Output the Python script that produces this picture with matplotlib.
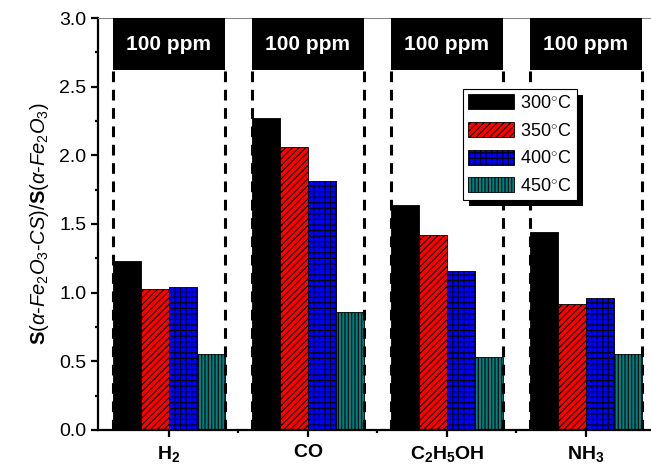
import numpy as np
import matplotlib.pyplot as plt
from matplotlib.patches import Rectangle
from matplotlib.transforms import IdentityTransform
from matplotlib.ticker import MultipleLocator, FixedLocator

plt.rcParams['font.family'] = ['Liberation Sans', 'DejaVu Sans']
plt.rcParams['mathtext.fontset'] = 'custom'
plt.rcParams['mathtext.rm'] = 'Liberation Sans'
plt.rcParams['mathtext.it'] = 'Liberation Sans:italic'
plt.rcParams['mathtext.bf'] = 'Liberation Sans:bold'
plt.rcParams['hatch.linewidth'] = 0.8

gases = [r'$\mathbf{H_2}$', r'$\mathbf{CO}$', r'$\mathbf{C_2H_5OH}$', r'$\mathbf{NH_3}$']
temps = ['300$^{\\circ}$C', '350$^{\\circ}$C', '400$^{\\circ}$C', '450$^{\\circ}$C']
s_300 = [1.23, 2.27, 1.64, 1.44]
s_350 = [1.03, 2.06, 1.42, 0.92]
s_400 = [1.04, 1.81, 1.16, 0.96]
s_450 = [0.55, 0.86, 0.53, 0.55]
conc_label = '100 ppm'

series = [s_300, s_350, s_400, s_450]
colors = ['black', 'red', 'blue', '#008080']
hatches = ['', '/////', '+++', '|||||']

fig = plt.figure(figsize=(6.51, 4.69), dpi=100)
ax = fig.add_axes([0.1505, 0.0832, 0.8495, 0.8784])

x = np.arange(len(gases))
w = 0.2
for k, vals in enumerate(series):
    ax.bar(x + (k - 1.5) * w, vals, w, color=colors[k], hatch=hatches[k],
           edgecolor='black', linewidth=0.6, label=temps[k], zorder=2)

# black concentration boxes and dashed guides around each group
box_lo = 2.62
for i in x:
    ax.add_patch(Rectangle((i - 0.4, box_lo), 0.8, 3.0 - box_lo,
                           facecolor='black', edgecolor='none', zorder=3))
    ax.text(i, (box_lo + 3.0) / 2, conc_label, color='white', fontsize=15,
            fontweight='bold', ha='center', va='center', zorder=4)
    for xe in (i - 0.4, i + 0.4):
        ax.plot([xe, xe], [0, box_lo], color='black', lw=2.2,
                dashes=(3.5, 2.5), zorder=3)

ax.set_xlim(-0.511, 3.468)
ax.set_ylim(0, 3.0)
ax.set_xticks(x)
ax.set_xticklabels(gases, fontsize=14)
ax.xaxis.set_minor_locator(FixedLocator([0.5, 1.5, 2.5]))
ax.yaxis.set_major_locator(MultipleLocator(0.5))
ax.yaxis.set_minor_locator(MultipleLocator(0.25))
ax.yaxis.set_major_formatter(plt.FormatStrFormatter('%.1f'))
ax.tick_params(axis='both', which='major', direction='out', length=5, width=1.6,
               labelsize=14)
ax.tick_params(axis='both', which='minor', direction='out', length=2.5, width=1.6)
ax.tick_params(axis='x', pad=5)

for s in ('left', 'bottom'):
    ax.spines[s].set_linewidth(1.6)
ax.spines['top'].set_linewidth(0.8)
ax.spines['top'].set_color('#888888')
ax.spines['right'].set_visible(False)

ax.set_ylabel(r'$\mathbf{S}(\alpha$-$Fe_2O_3$-$CS)/\mathbf{S}(\alpha$-$Fe_2O_3)$',
              fontsize=14.5, labelpad=6)

leg = ax.legend(loc='upper left', bbox_to_anchor=(0.66, 0.828), borderaxespad=0,
                fontsize=13, fancybox=False, framealpha=1, edgecolor='black',
                handlelength=2.5, handleheight=0.9, handletextpad=0.35,
                labelspacing=0.55, borderpad=0.3)
leg.get_frame().set_linewidth(0.8)
leg.set_zorder(6)

# solid drop shadow behind the legend frame
fig.canvas.draw()
bb = leg.get_window_extent()
ax.add_artist(Rectangle((bb.x0 + 6, bb.y0 - 6), bb.width, bb.height,
                        transform=IdentityTransform(), facecolor='black',
                        edgecolor='none', zorder=5.5, clip_on=False))

fig.savefig('out.png', dpi=100)
